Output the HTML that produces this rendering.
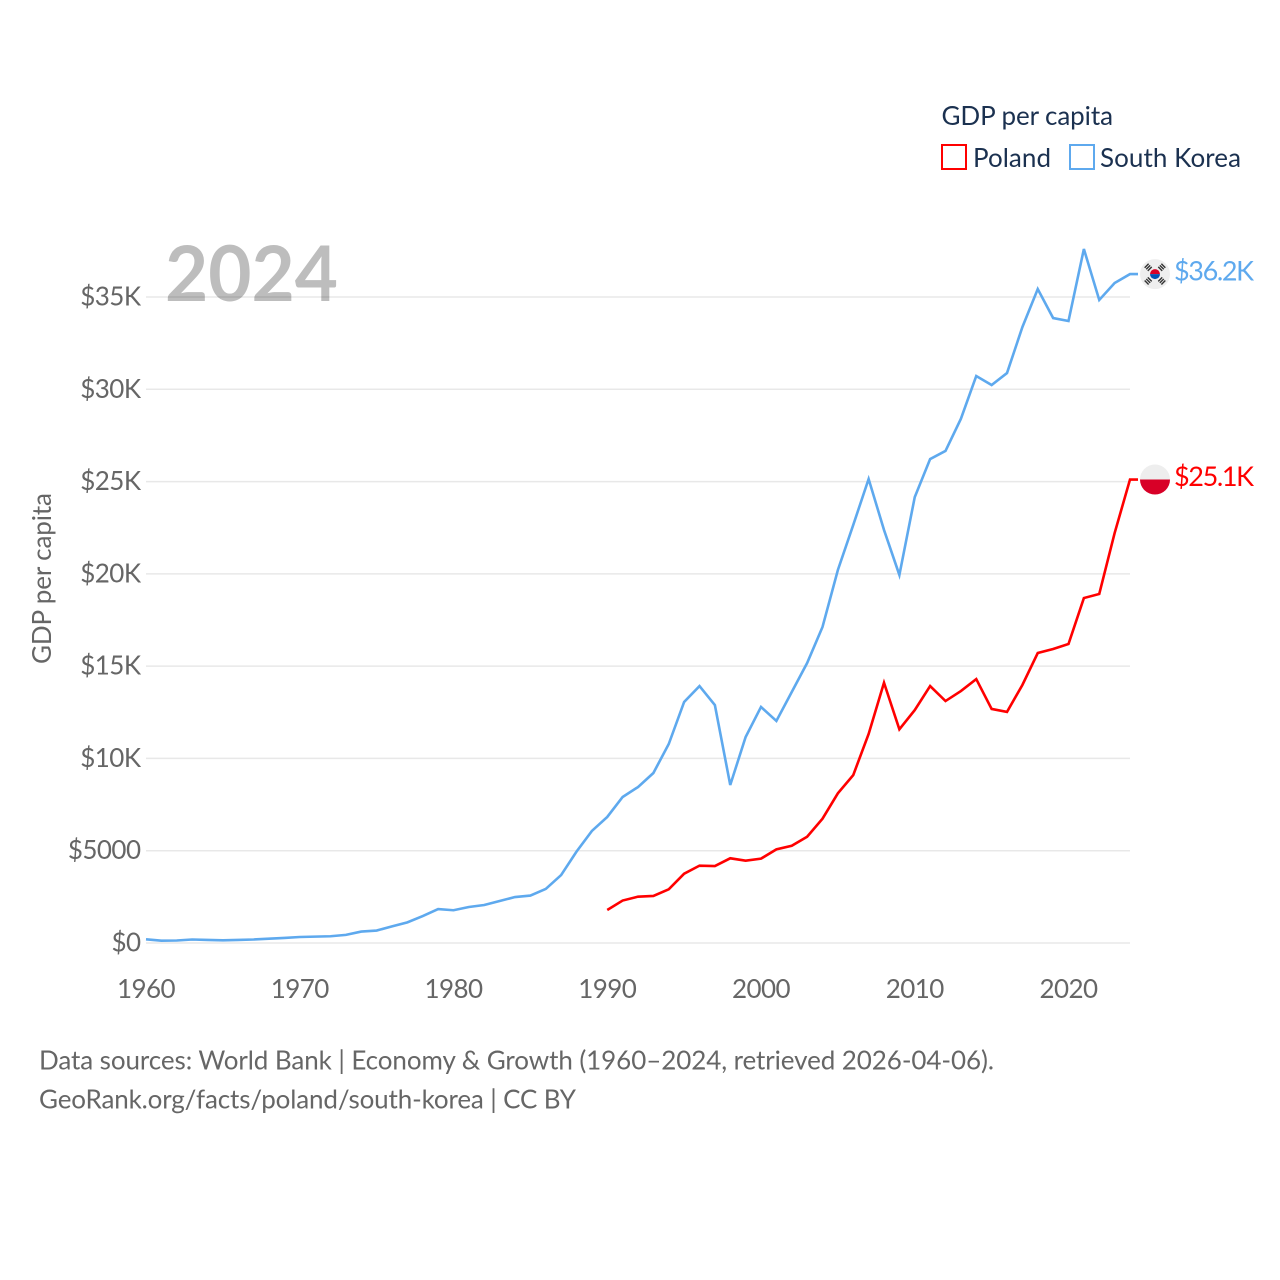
<!DOCTYPE html>
<html lang="en">
<head>
<meta charset="utf-8">
<title>GDP per capita: Poland and South Korea</title>
<style>
html,body{margin:0;padding:0;background:#fff;width:1280px;height:1280px;overflow:hidden}
svg{display:block}
text{font-family:"Lato","Carlito","Liberation Sans",sans-serif}
</style>
</head>
<body>
<svg id="chart" xmlns="http://www.w3.org/2000/svg" width="1280" height="1280" viewBox="0 0 1280 1280">
  <rect width="1280" height="1280" fill="#fff"/>
  <text x="165" y="301" font-size="77" font-weight="700" fill="#bdbdbd" textLength="173" lengthAdjust="spacingAndGlyphs">2024</text>
  <g id="grid"></g>
  <g id="yticks"></g>
  <g id="xticks"></g>
  <text transform="translate(51,664) rotate(-90)" font-size="26" fill="#666" textLength="171" lengthAdjust="spacing">GDP per capita</text>
  <g id="series"></g>
  <g id="end-markers"></g>
  <g>
    <text x="941.5" y="125" font-size="26" fill="#1b3150" textLength="171.5" lengthAdjust="spacing">GDP per capita</text>
    <rect x="942" y="145" width="24" height="24" fill="none" stroke="#ff0000" stroke-width="2"/>
    <text x="973" y="167" font-size="26" fill="#1b3150" textLength="78" lengthAdjust="spacing">Poland</text>
    <rect x="1070" y="145" width="24" height="24" fill="none" stroke="#5ea9ee" stroke-width="2"/>
    <text x="1100" y="167" font-size="26" fill="#1b3150" textLength="141" lengthAdjust="spacing">South Korea</text>
  </g>
  <g>
    <text x="39" y="1069.5" font-size="26" fill="#666" textLength="955" lengthAdjust="spacing">Data sources: World Bank | Economy &amp; Growth (1960–2024, retrieved 2026-04-06).</text>
    <text x="39" y="1108.5" font-size="26" fill="#666" textLength="537" lengthAdjust="spacing">GeoRank.org/facts/poland/south-korea | CC BY</text>
  </g>
</svg>
<script>
const yTickValues = [0, 5000, 10000, 15000, 20000, 25000, 30000, 35000];
const yTickLabels = ["$0", "$5000", "$10K", "$15K", "$20K", "$25K", "$30K", "$35K"];
const xTickYears = [1960, 1970, 1980, 1990, 2000, 2010, 2020];
const koreaStartYear = 1960;
const polandStartYear = 1990;
const koreaValues = [
  200, 125, 135, 190, 165, 145, 165, 190, 235, 275,
  325, 345, 365, 440, 620, 675, 900, 1120, 1460, 1840,
  1775, 1950, 2060, 2275, 2490, 2570, 2930, 3680, 4950, 6070,
  6830, 7910, 8450, 9210, 10780, 13060, 13920, 12890, 8560, 11160,
  12790, 12030, 13600, 15170, 17120, 20210, 22650, 25140, 22380, 19940,
  24160, 26220, 26660, 28400, 30720, 30230, 30880, 33370, 35430, 33860,
  33700, 37600, 34840, 35760, 36240
];
const polandValues = [
  1790, 2300, 2510, 2550, 2910, 3755, 4190, 4170, 4590, 4460,
  4570, 5075, 5270, 5760, 6735, 8110, 9100, 11325, 14100, 11580,
  12620, 13920, 13110, 13650, 14300, 12680, 12520, 13980, 15710, 15930,
  16200, 18690, 18910, 22210, 25110
];
const koreaEndLabel = "$36.2K";
const polandEndLabel = "$25.1K";

const SVGNS = "http://www.w3.org/2000/svg";
const xScale = function (year) { return 146 + (year - 1960) * (1130 - 146) / 64; };
const yScale = function (value) { return 943 - value * (943 - 297) / 35000; };

function make(tag, parent, attrs, text) {
  const el = document.createElementNS(SVGNS, tag);
  for (const k in attrs) el.setAttribute(k, attrs[k]);
  if (text !== undefined) el.textContent = text;
  parent.appendChild(el);
  return el;
}

const gridGroup = document.getElementById("grid");
const yTickGroup = document.getElementById("yticks");
yTickValues.forEach(function (v, i) {
  const line = make("line", gridGroup, { x1: 146, x2: 1130, y1: yScale(v), y2: yScale(v), stroke: "#000", "stroke-opacity": 0.09, "stroke-width": 1.5 });
  
  
  const label = make("text", yTickGroup, { x: 140.5, y: yScale(v) + 8.5, "text-anchor": "end", "font-size": 26, "letter-spacing": "-0.55", fill: "#666" }, yTickLabels[i]);
  
  
});

const xTickGroup = document.getElementById("xticks");
xTickYears.forEach(function (year) {
  const label = make("text", xTickGroup, { x: xScale(year), y: 998, "text-anchor": "middle", "font-size": 26, "letter-spacing": "-0.55", fill: "#666" }, String(year));
  
  
});

function linePath(values, startYear) {
  let d = values.map(function (v, i) {
    return (i ? "L" : "M") + xScale(startYear + i).toFixed(2) + " " + yScale(v).toFixed(2);
  }).join("");
  const last = values[values.length - 1];
  d += "L" + (xScale(startYear + values.length - 1) + 8).toFixed(2) + " " + yScale(last).toFixed(2);
  return d;
}

const seriesGroup = document.getElementById("series");
const koreaLine = make("path", seriesGroup, { d: linePath(koreaValues, koreaStartYear), fill: "none", stroke: "#5ea9ee", "stroke-width": 2.6, "stroke-linejoin": "miter" });


const polandLine = make("path", seriesGroup, { d: linePath(polandValues, polandStartYear), fill: "none", stroke: "#ff0000", "stroke-width": 2.6, "stroke-linejoin": "miter" });



const markerGroup = document.getElementById("end-markers");
const flagX = xScale(2024) + 25;

// South Korea flag and end label
const koreaY = yScale(koreaValues[koreaValues.length - 1]);
const koreaFlag = make("g", markerGroup, { transform: "translate(" + flagX + "," + koreaY + ")" });


make("circle", koreaFlag, { r: 15, fill: "#eeeeee" });
make("path", koreaFlag, { d: "M-5 0A5 5 0 0 1 5 0Z", fill: "#d80027" });
make("path", koreaFlag, { d: "M-5 0A5 5 0 0 0 5 0Z", fill: "#0052b4" });
[[-6.8, -6.8, 135], [6.8, -6.8, 45], [-6.8, 6.8, 45], [6.8, 6.8, 135]].forEach(function (p) {
  const g = make("g", koreaFlag, { transform: "translate(" + p[0] + "," + p[1] + ") rotate(" + p[2] + ")" });
  [-2.2, 0, 2.2].forEach(function (off) {
    make("rect", g, { x: -2.8, y: off - 0.7, width: 5.6, height: 1.4, fill: "#333" });
  });
});
const koreaLabel = make("text", markerGroup, { x: 1174, y: koreaY + 6.5, "font-size": 27, fill: "#5ea9ee", textLength: 80, lengthAdjust: "spacing" }, koreaEndLabel);



// Poland flag and end label
const polandY = yScale(polandValues[polandValues.length - 1]);
const polandFlag = make("g", markerGroup, { transform: "translate(" + flagX + "," + polandY + ")" });


make("circle", polandFlag, { r: 15, fill: "#eeeeee" });
make("path", polandFlag, { d: "M-15 0A15 15 0 0 0 15 0Z", fill: "#d80027" });
const polandLabel = make("text", markerGroup, { x: 1174, y: polandY + 6.5, "font-size": 27, fill: "#ff0000", textLength: 80, lengthAdjust: "spacing" }, polandEndLabel);


</script>
</body>
</html>
